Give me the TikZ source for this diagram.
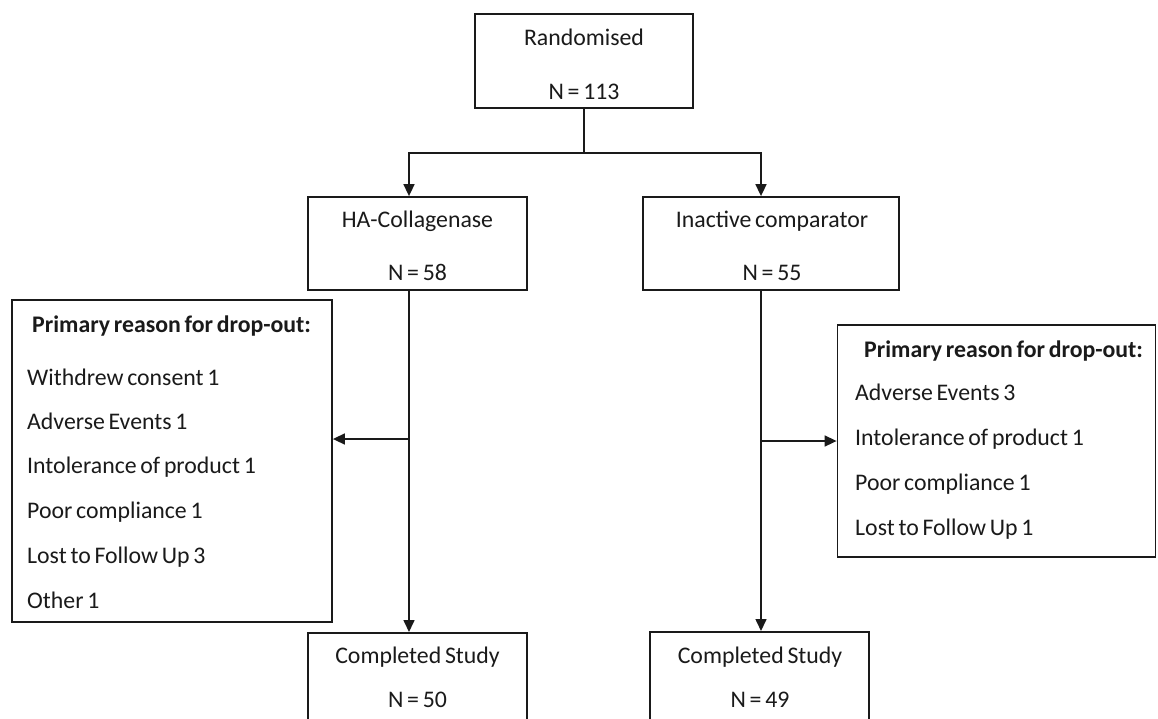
\documentclass[tikz,border=0pt]{standalone}
\usepackage{fontspec}
\setmainfont[WordSpace=0.7]{Carlito}
\usetikzlibrary{arrows.meta,calc}
\definecolor{ink}{HTML}{1A1A1A}
\tikzset{
  box/.style={draw=ink, line width=1.8pt, inner sep=0pt},
  txt/.style={inner sep=0pt, text=ink, font=\fontsize{23.8}{28}\selectfont, anchor=base},
  ltxt/.style={txt, anchor=base west},
  conn/.style={draw=ink, line width=1.6pt},
  arr/.style={conn, -{Triangle[length=12pt,width=11pt]}}
}
\begin{document}
\begin{tikzpicture}[x=1pt,y=-1pt]
\useasboundingbox (0,0) rectangle (1158,718);
\clip (0,0) rectangle (1158,718);
\fill[white] (0,0) rectangle (1158,718);
% boxes
\node[box, minimum width=218pt, minimum height=94pt] (rand) at (584,61) {};
\node[txt] (rand1) at (584,45) {Randomised};
\node[txt] (rand2) at (584,99) {N = 113};
\node[box, minimum width=219pt, minimum height=93pt] (ha) at (417.5,243.5) {};
\node[txt] (ha1) at (417.5,227) {HA-Collagenase};
\node[txt] (ha2) at (417.5,280) {N = 58};
\node[box, minimum width=256pt, minimum height=93pt] (ina) at (771,243.5) {};
\node[txt] (ina1) at (772,227) {Inactive comparator};
\node[txt] (ina2) at (772,280) {N = 55};
\node[box, minimum width=320pt, minimum height=322pt] (ldrop) at (172,461) {};
\node[ltxt, font=\fontsize{23.8}{28}\bfseries] (lt) at (32,332) {Primary reason for drop-out:};
\node[ltxt] (l1) at (27,385) {Withdrew consent 1};
\node[ltxt] (l2) at (27,429) {Adverse Events 1};
\node[ltxt] (l3) at (27,473) {Intolerance of product 1};
\node[ltxt] (l4) at (27,518) {Poor compliance 1};
\node[ltxt] (l5) at (27,563) {Lost to Follow Up 3};
\node[ltxt] (l6) at (27,608) {Other 1};
\node[box, minimum width=318pt, minimum height=232pt] (rdrop) at (996.5,441) {};
\node[ltxt, font=\fontsize{23.8}{28}\bfseries] (rt) at (864,357) {Primary reason for drop-out:};
\node[ltxt] (r1) at (855,400) {Adverse Events 3};
\node[ltxt] (r2) at (855,445) {Intolerance of product 1};
\node[ltxt] (r3) at (855,490) {Poor compliance 1};
\node[ltxt] (r4) at (855,535) {Lost to Follow Up 1};
\node[box, minimum width=219pt, minimum height=130pt, anchor=north] (cl) at (417.5,632) {};
\node[txt] (cl1) at (417.5,663) {Completed Study};
\node[txt] (cl2) at (417.5,707) {N = 50};
\node[box, minimum width=219pt, minimum height=130pt, anchor=north] (cr) at (759.5,631) {};
\node[txt] (cr1) at (760,663) {Completed Study};
\node[txt] (cr2) at (760,707) {N = 49};
% connectors
\coordinate (sp) at ($(rand.south)+(0,44)$);
\coordinate (hx) at ($(ha.north)+(-8.5,0)$);
\coordinate (ix) at ($(ina.north)+(-10,0)$);
\draw[conn] (rand.south) -- (sp);
\draw[arr] (sp) -| (hx);
\draw[arr] (sp) -| (ix);
\coordinate (hs) at ($(ha.south)+(-8.5,0)$);
\draw[arr] (hs) -- (hs |- cl.north);
\coordinate (is) at ($(ina.south)+(-10,0)$);
\draw[arr] (is) -- (is |- cr.north);
\coordinate (lj) at (hs |- 0,439);
\draw[arr] (lj) -- (lj -| ldrop.east);
\draw[arr] (is |- rdrop.west) -- (rdrop.west);
\end{tikzpicture}
\end{document}
